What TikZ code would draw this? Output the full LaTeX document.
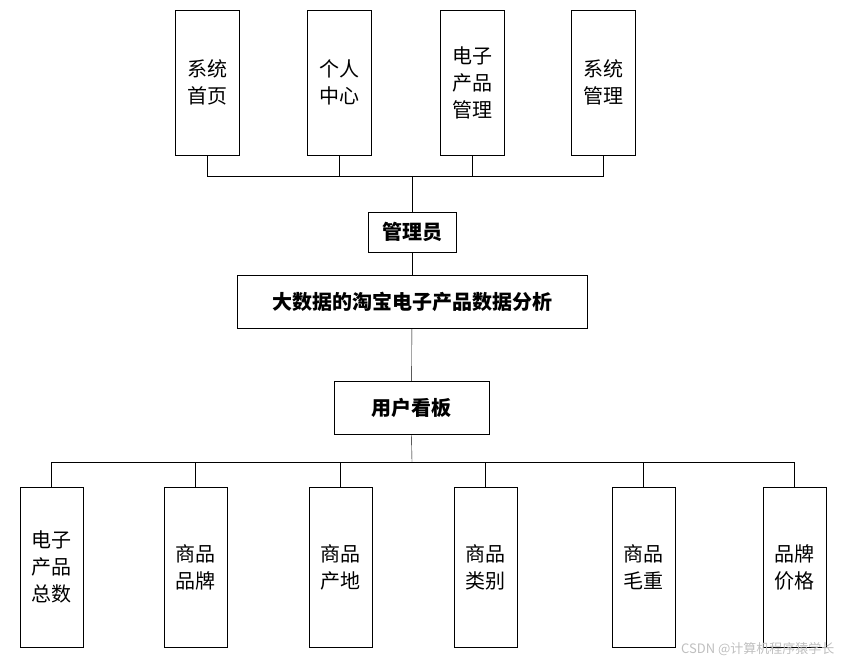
\documentclass[tikz,border=0pt]{standalone}
\usepackage{fontspec}
\setmainfont{Noto Sans CJK SC}
\usetikzlibrary{positioning}
\begin{document}
\begin{tikzpicture}[x=1pt, y=-1pt,
box/.style={draw, inner sep=0, align=center, font=\fontsize{20}{27}\selectfont},
mid/.style={box, font=\fontsize{20}{27}\selectfont\bfseries}]
\useasboundingbox (0,0) rectangle (849,665);
%%%%%%%% TOP ROW %%%%%%%%
\node[box, minimum width=64pt, minimum height=145pt] (sysHome) at (207,82.5) {系统\\首页};
\node[box, minimum width=64pt, minimum height=145pt] (myCenter) at (339,82.5) {个人\\中心};
\node[box, minimum width=64pt, minimum height=145pt] (prodMgr) at (472,82.5) {电子\\产品\\管理};
\node[box, minimum width=64pt, minimum height=145pt] (sysMgr) at (603,82.5) {系统\\管理};
%%%%%%%% MIDDLE %%%%%%%%
\node[mid, minimum width=88pt, minimum height=40pt] (admin) at (412,232) {管理员};
\node[mid, minimum width=350pt, minimum height=53pt] (title) at (412,301.5) {大数据的淘宝电子产品数据分析};
\node[mid, minimum width=155pt, minimum height=53pt] (board) at (411.5,407.5) {用户看板};
%%%%%%%% BOTTOM ROW %%%%%%%%
\node[box, minimum width=63pt, minimum height=160pt] (total) at (51.5,567) {电子\\产品\\总数};
\node[box, minimum width=63pt, minimum height=160pt] (brand) at (195.5,567) {商品\\品牌};
\node[box, minimum width=63pt, minimum height=160pt] (origin) at (340.5,567) {商品\\产地};
\node[box, minimum width=63pt, minimum height=160pt] (kind) at (485.5,567) {商品\\类别};
\node[box, minimum width=63pt, minimum height=160pt] (weight) at (643.5,567) {商品\\毛重};
\node[box, minimum width=63pt, minimum height=160pt] (price) at (794.5,567) {品牌\\价格};
%%%%%%%% CONNECTORS %%%%%%%%
\coordinate (busTop) at (412,176);
\coordinate (busLow) at (412,462);
\foreach \n in {sysHome,myCenter,prodMgr,sysMgr}
  \draw (\n.south) |- (busTop);
\draw (busTop) -- (admin.north);
\draw (admin) -- (title);
\draw (title) -- (board);
\draw (board.south) -- (busLow);
\foreach \n in {total,brand,origin,kind,weight,price}
  \draw (\n.north) |- (busLow);
\node[text=gray!50, font=\fontsize{13}{15}\selectfont, anchor=east] (mark) at (838,649) {CSDN @计算机程序猿学长};
\end{tikzpicture}
\end{document}
